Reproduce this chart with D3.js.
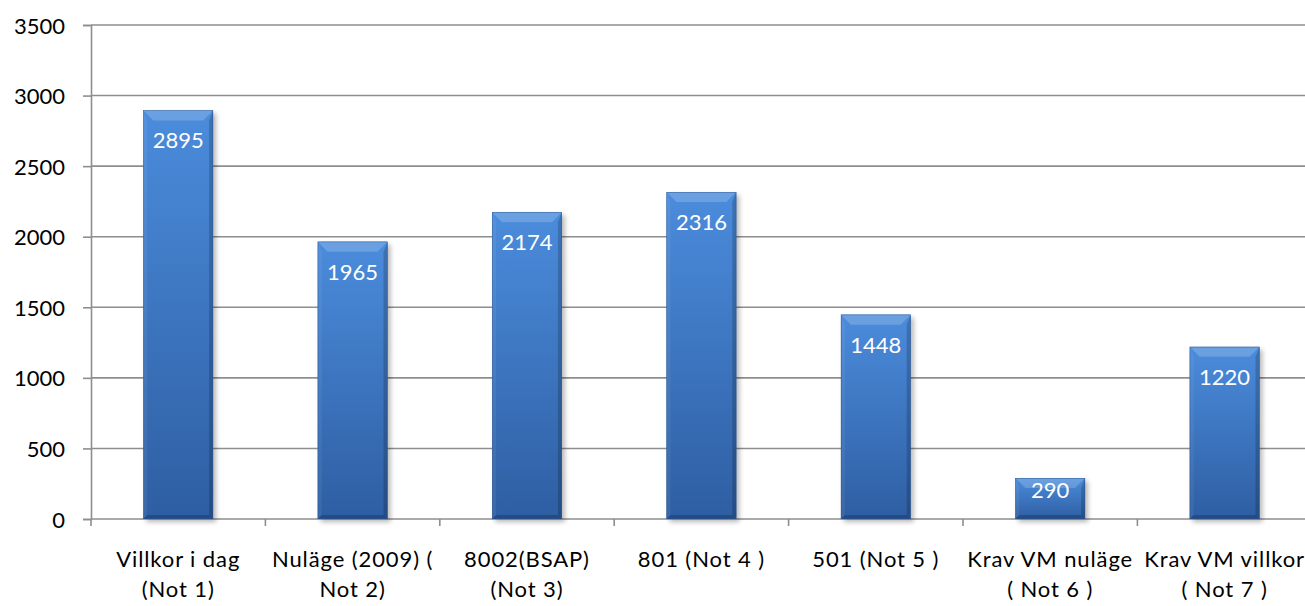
<!DOCTYPE html>
<html>
<head>
<meta charset="utf-8">
<script src="https://cdn.jsdelivr.net/npm/d3@7/dist/d3.min.js"></script>
<style>
  html, body { margin: 0; padding: 0; background: #ffffff; overflow: hidden; }
  svg { display: block; font-family: Lato, "Open Sans", sans-serif; }
</style>
</head>
<body>
<svg id="chart" width="1305" height="606"></svg>
<script>
// Category labels (each entry is the lines of one label)
const categories = [
  ["Villkor i dag", "(Not 1)"],
  ["Nuläge (2009) (", "Not 2)"],
  ["8002(BSAP)", "(Not 3)"],
  ["801 (Not 4 )"],
  ["501 (Not 5 )"],
  ["Krav VM nuläge", "( Not 6 )"],
  ["Krav VM villkor", "( Not 7 )"]
];
const values = [2895, 1965, 2174, 2316, 1448, 290, 1220];
const yTicks = [0, 500, 1000, 1500, 2000, 2500, 3000, 3500];

const svg = d3.select("#chart");
const plotLeft = 91, plotTop = 25, plotBottom = 519;
const band = 174.4;
const plotRight = plotLeft + band * categories.length;

const x = d3.scaleBand()
  .domain(d3.range(categories.length))
  .range([plotLeft, plotRight])
  .paddingInner(0.6)
  .paddingOuter(0.3);
const y = d3.scaleLinear().domain([0, 3500]).range([plotBottom, plotTop]);

const defs = svg.append("defs");
const grad = defs.append("linearGradient")
  .attr("id", "barFill").attr("x1", 0).attr("y1", 0).attr("x2", 0).attr("y2", 1);
grad.append("stop").attr("offset", "0%").attr("stop-color", "#4b8cdc");
grad.append("stop").attr("offset", "100%").attr("stop-color", "#2e5ea2");

const shadow = defs.append("filter").attr("id", "shadow")
  .attr("x", "-20%").attr("y", "-20%").attr("width", "140%").attr("height", "140%");
shadow.append("feGaussianBlur").attr("stdDeviation", 2.5);

// Gridlines
svg.append("g")
  .selectAll("line")
  .data(yTicks.filter(d => d > 0))
  .join("line")
  .attr("x1", plotLeft).attr("x2", 1305)
  .attr("y1", d => y(d)).attr("y2", d => y(d))
  .attr("stroke", "#8e8e8e").attr("stroke-width", 1.6);

// Y axis
const yAxis = svg.append("g").attr("transform", `translate(${plotLeft},0)`)
  .call(d3.axisLeft(y).tickValues(yTicks).tickSize(8).tickPadding(18).tickFormat(d3.format("d")));
yAxis.select(".domain").attr("stroke", "#8e8e8e").attr("stroke-width", 1.6);
yAxis.selectAll(".tick line").attr("stroke", "#8e8e8e").attr("stroke-width", 1.6);
yAxis.selectAll(".tick text")
  .attr("font-size", 22).attr("fill", "#000").attr("font-family", "Lato, sans-serif")
  .attr("dy", null).attr("y", 8);

// X axis baseline and category boundary ticks
svg.append("line")
  .attr("x1", plotLeft).attr("x2", 1305).attr("y1", plotBottom).attr("y2", plotBottom)
  .attr("stroke", "#8e8e8e").attr("stroke-width", 1.6);
svg.append("g")
  .selectAll("line")
  .data(d3.range(categories.length + 1))
  .join("line")
  .attr("x1", i => plotLeft + i * band).attr("x2", i => plotLeft + i * band)
  .attr("y1", plotBottom).attr("y2", plotBottom + 7)
  .attr("stroke", "#8e8e8e").attr("stroke-width", 1.6);

// Category labels
const labels = svg.append("g")
  .selectAll("text")
  .data(categories)
  .join("text")
  .attr("text-anchor", "middle")
  .attr("font-size", 22)
  .attr("letter-spacing", 0.9)
  .attr("fill", "#000");
labels.selectAll("tspan")
  .data((d, i) => d.map(t => ({ t, i })))
  .join("tspan")
  .attr("x", d => x(d.i) + x.bandwidth() / 2)
  .attr("y", (d, j) => 567 + j * 30)
  .text(d => d.t);

// Bars
const bars = svg.append("g")
  .selectAll("g")
  .data(values)
  .join("g");

const bw = x.bandwidth();
const bev = 10, side = 4;

bars.append("rect")
  .attr("x", (d, i) => x(i) + 3).attr("y", d => y(d) + 3)
  .attr("width", bw).attr("height", d => plotBottom - y(d))
  .attr("fill", "#000").attr("opacity", 0.28)
  .attr("filter", "url(#shadow)");

bars.append("rect")
  .attr("x", (d, i) => x(i)).attr("y", d => y(d))
  .attr("width", bw).attr("height", d => plotBottom - y(d))
  .attr("fill", "url(#barFill)");

// Top bevel (light)
bars.append("polygon")
  .attr("points", (d, i) => {
    const x0 = x(i), y0 = y(d);
    return [[x0, y0], [x0 + bw, y0], [x0 + bw - bev, y0 + bev], [x0 + bev, y0 + bev]].join(" ");
  })
  .attr("fill", "#ffffff").attr("opacity", 0.18);

// Left bevel
bars.append("polygon")
  .attr("points", (d, i) => {
    const x0 = x(i), y0 = y(d), y1 = plotBottom;
    return [[x0, y0], [x0 + side, y0 + bev], [x0 + side, y1 - side], [x0, y1]].join(" ");
  })
  .attr("fill", "#ffffff").attr("opacity", 0.06);

// Right bevel
bars.append("polygon")
  .attr("points", (d, i) => {
    const x0 = x(i) + bw, y0 = y(d), y1 = plotBottom;
    return [[x0, y0], [x0 - side, y0 + bev], [x0 - side, y1 - side], [x0, y1]].join(" ");
  })
  .attr("fill", "#000000").attr("opacity", 0.18);

// Bottom bevel
bars.append("polygon")
  .attr("points", (d, i) => {
    const x0 = x(i), y1 = plotBottom;
    return [[x0, y1], [x0 + bw, y1], [x0 + bw - side, y1 - side], [x0 + side, y1 - side]].join(" ");
  })
  .attr("fill", "#000000").attr("opacity", 0.2);

bars.append("rect")
  .attr("x", (d, i) => x(i) + 0.25).attr("y", d => y(d) + 0.25)
  .attr("width", bw - 0.5).attr("height", d => plotBottom - y(d) - 0.5)
  .attr("fill", "none").attr("stroke", "#2b5790").attr("stroke-width", 0.5);

// Value labels inside the top of each bar
bars.append("text")
  .attr("x", (d, i) => x(i) + bw / 2)
  .attr("y", d => Math.min(y(d) + 38, plotBottom - 21))
  .attr("text-anchor", "middle")
  .attr("font-size", 22)
  .attr("fill", "#ffffff")
  .text(d => d);
</script>
</body>
</html>
